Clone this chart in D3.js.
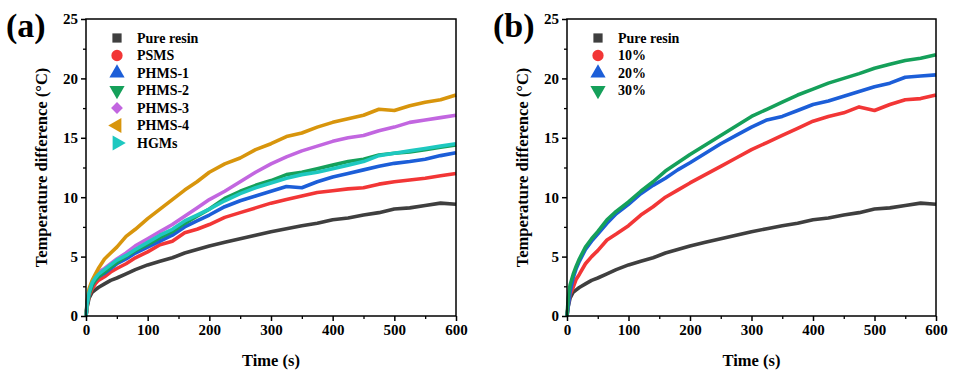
<!DOCTYPE html>
<html>
<head>
<meta charset="utf-8">
<script src="https://cdn.jsdelivr.net/npm/d3@7"></script>
<style>
  body { margin: 0; background: #fff; }
  text { font-family: "Liberation Serif", "Times New Roman", serif; font-weight: bold; }
</style>
</head>
<body>
<div id="grafico"></div>
<script>
// time axis shared by every curve (s)
var times = [0, 2, 5, 10, 15, 20, 30, 40, 50, 65, 80, 100, 120, 140, 160, 180, 200, 225, 250, 275, 300,
  325, 350, 375, 400, 425, 450, 475, 500, 525, 550, 575, 600];

// panel (a)
var pureResin = [0, 0.8, 1.5, 2.0, 2.2, 2.4, 2.7, 3.0, 3.2, 3.55, 3.9, 4.3, 4.6, 4.9, 5.3, 5.6, 5.9, 6.2, 6.5, 6.8, 7.1,
  7.35, 7.6, 7.8, 8.1, 8.25, 8.5, 8.7, 9.0, 9.1, 9.3, 9.5, 9.4];
var psms = [0, 0.9, 1.7, 2.3, 2.7, 3.0, 3.3, 3.7, 4.0, 4.4, 4.9, 5.4, 6.0, 6.3, 7.0, 7.3, 7.7, 8.3, 8.7, 9.1, 9.5,
  9.8, 10.1, 10.4, 10.55, 10.7, 10.8, 11.1, 11.3, 11.45, 11.6, 11.8, 12.0];
var phms1 = [0, 1.0, 1.9, 2.6, 3.0, 3.3, 3.6, 4.0, 4.4, 4.8, 5.3, 5.8, 6.3, 6.8, 7.5, 8.0, 8.5, 9.2, 9.7, 10.1, 10.5,
  10.9, 10.8, 11.3, 11.7, 12.0, 12.3, 12.6, 12.85, 13.0, 13.2, 13.5, 13.75];
var phms2 = [0, 1.0, 1.8, 2.6, 3.0, 3.3, 3.7, 4.1, 4.5, 5.0, 5.5, 6.0, 6.6, 7.1, 7.8, 8.4, 9.0, 9.9, 10.5, 11.0, 11.4,
  11.9, 12.1, 12.4, 12.7, 13.0, 13.2, 13.55, 13.7, 13.8, 14.0, 14.2, 14.4];
var phms3 = [0, 1.2, 2.1, 2.9, 3.4, 3.7, 4.0, 4.4, 4.8, 5.3, 5.9, 6.5, 7.1, 7.7, 8.4, 9.1, 9.8, 10.5, 11.3, 12.1, 12.8,
  13.4, 13.9, 14.3, 14.7, 15.0, 15.2, 15.6, 15.9, 16.3, 16.5, 16.7, 16.9];
var phms4 = [0, 1.3, 2.3, 3.0, 3.5, 4.0, 4.8, 5.3, 5.8, 6.7, 7.3, 8.2, 9.0, 9.8, 10.6, 11.3, 12.1, 12.8, 13.3, 14.0, 14.5,
  15.1, 15.4, 15.9, 16.3, 16.6, 16.9, 17.4, 17.3, 17.7, 18.0, 18.2, 18.6];
var hgms = [0, 1.1, 2.0, 2.8, 3.2, 3.5, 3.9, 4.3, 4.7, 5.1, 5.6, 6.2, 6.8, 7.3, 8.0, 8.5, 9.0, 9.7, 10.3, 10.8, 11.2,
  11.6, 11.9, 12.1, 12.4, 12.7, 13.0, 13.5, 13.7, 13.9, 14.1, 14.3, 14.5];

// panel (b)
var pct10 = [0, 1.0, 1.8, 2.4, 3.1, 3.5, 4.4, 5.0, 5.5, 6.4, 6.9, 7.6, 8.5, 9.2, 10.0, 10.6, 11.2, 11.9, 12.6, 13.3, 14.0,
  14.6, 15.2, 15.8, 16.4, 16.8, 17.1, 17.6, 17.3, 17.8, 18.2, 18.3, 18.6];
var pct20 = [0, 0.8, 2.0, 3.2, 4.0, 4.6, 5.6, 6.3, 6.9, 7.8, 8.6, 9.4, 10.3, 11.0, 11.6, 12.3, 12.9, 13.7, 14.5, 15.2, 15.9,
  16.5, 16.8, 17.3, 17.8, 18.1, 18.5, 18.9, 19.3, 19.6, 20.1, 20.2, 20.3];
var pct30 = [0, 1.5, 2.6, 3.5, 4.2, 4.8, 5.8, 6.5, 7.1, 8.1, 8.8, 9.6, 10.5, 11.3, 12.2, 12.9, 13.6, 14.4, 15.2, 16.0, 16.8,
  17.4, 18.0, 18.6, 19.1, 19.6, 20.0, 20.4, 20.85, 21.2, 21.5, 21.7, 22.0];

var namesA = ["Pure resin", "PSMS", "PHMS-1", "PHMS-2", "PHMS-3", "PHMS-4", "HGMs"];
var namesB = ["Pure resin", "10%", "20%", "30%"];
var xTicks = [0, 100, 200, 300, 400, 500, 600];
var yTicks = [0, 5, 10, 15, 20, 25];

var colorA = ["#3f3f3f", "#f23636", "#1c5ed8", "#15a05a", "#c266e0", "#d8950c", "#1ec8c0"];
var colorB = ["#3f3f3f", "#f23636", "#1c5ed8", "#15a05a"];
// marker shape + rotation
var symbolsA = [[d3.symbolSquare, 0], [d3.symbolCircle, 0], [d3.symbolTriangle, 0], [d3.symbolTriangle, 180],
  [d3.symbolSquare, 45], [d3.symbolTriangle, -90], [d3.symbolTriangle, 90]];

var svg = d3.select("#grafico").append("svg")
  .attr("width", 955)
  .attr("height", 372);

var panels = [
  { label: "(a)", left: 86, right: 456, names: namesA, colors: colorA, symbols: symbolsA,
    series: [pureResin, psms, phms1, phms2, phms3, phms4, hgms], labelX: 6 },
  { label: "(b)", left: 567, right: 936, names: namesB, colors: colorB, symbols: symbolsA.slice(0, 4),
    series: [pureResin, pct10, pct20, pct30], labelX: 493 }
];

var plotTop = 19, plotBottom = 316;

panels.forEach(function(p) {
  var x = d3.scaleLinear().domain([0, 600]).range([p.left, p.right]);
  var y = d3.scaleLinear().domain([0, 25]).range([plotBottom, plotTop]);

  // curves
  var line = d3.line().x(function(d, i) { return x(times[i]); }).y(function(d) { return y(d); });
  p.series.forEach(function(s, i) {
    svg.append("path")
      .attr("d", line(s))
      .attr("fill", "none")
      .attr("stroke", p.colors[i])
      .attr("stroke-width", 3.6)
      .attr("stroke-linejoin", "round");
  });

  // minor ticks
  svg.append("g")
    .attr("transform", "translate(0," + plotBottom + ")")
    .call(d3.axisBottom(x).tickValues(d3.range(50, 600, 100)).tickSize(3).tickFormat(""))
    .call(function(g) { g.select(".domain").remove(); g.selectAll("line").attr("stroke-width", 1.3); });
  svg.append("g")
    .attr("transform", "translate(" + p.left + ",0)")
    .call(d3.axisLeft(y).tickValues(d3.range(2.5, 25, 5)).tickSize(3).tickFormat(""))
    .call(function(g) { g.select(".domain").remove(); g.selectAll("line").attr("stroke-width", 1.3); });

  // major axes
  var xa = svg.append("g")
    .attr("transform", "translate(0," + plotBottom + ")")
    .call(d3.axisBottom(x).tickValues(xTicks).tickSize(5).tickPadding(3));
  var ya = svg.append("g")
    .attr("transform", "translate(" + p.left + ",0)")
    .call(d3.axisLeft(y).tickValues(yTicks).tickSize(5).tickPadding(3));
  [xa, ya].forEach(function(g) {
    g.select(".domain").remove();
    g.selectAll("line").attr("stroke", "#000").attr("stroke-width", 1.5);
    g.selectAll("text").attr("font-size", 15).attr("fill", "#000")
      .attr("font-family", "Liberation Serif").attr("font-weight", "bold");
  });

  // frame
  svg.append("rect")
    .attr("x", p.left).attr("y", plotTop)
    .attr("width", p.right - p.left).attr("height", plotBottom - plotTop)
    .attr("fill", "none").attr("stroke", "#000").attr("stroke-width", 1.5);

  // axis titles
  svg.append("text")
    .attr("x", (p.left + p.right) / 2).attr("y", 366)
    .attr("text-anchor", "middle").attr("font-size", 16.5)
    .text("Time (s)");
  svg.append("text")
    .attr("transform", "translate(" + (p.left - 39) + "," + ((plotTop + plotBottom) / 2) + ") rotate(-90)")
    .attr("text-anchor", "middle").attr("font-size", 16.5)
    .text("Temperature difference (°C)");

  // panel label
  svg.append("text")
    .attr("x", p.labelX).attr("y", 37)
    .attr("font-size", 34)
    .text(p.label);

  // legend
  var lg = svg.append("g").attr("transform", "translate(" + (p.left + 31) + ",38)");
  p.names.forEach(function(n, i) {
    var sym = p.symbols[i];
    var row = lg.append("g").attr("transform", "translate(0," + (i * 17.5) + ")");
    row.append("path")
      .attr("d", d3.symbol().type(sym[0]).size(sym[0] === d3.symbolSquare ? (sym[1] ? 70 : 85) : 100)())
      .attr("transform", "rotate(" + sym[1] + ")")
      .attr("fill", p.colors[i]);
    row.append("text")
      .attr("x", 20).attr("y", 0)
      .attr("dy", "0.35em")
      .attr("font-size", 14)
      .text(n);
  });
});
</script>
</body>
</html>
